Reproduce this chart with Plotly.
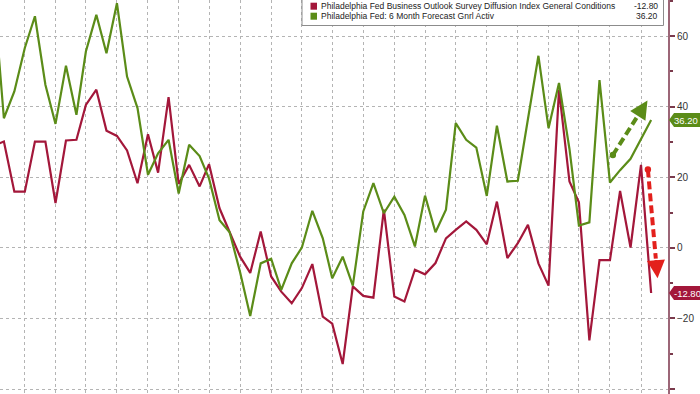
import pandas as pd
import plotly.graph_objects as go

# ---- data ----
months = [d.strftime("%Y-%m-%d") for d in pd.date_range("2020-06-01", periods=65, freq="MS")]

general_conditions = [
    29.0, 30.1, 15.9, 15.9, 30.1, 30.1, 12.7, 30.4, 30.6, 40.5,
    44.8, 33.2, 31.7, 27.6, 18.3, 32.2, 21.3, 42.7, 18.1, 23.5,
    17.4, 23.7, 11.2, 4.6, -2.5, -7.1, 4.6, -8.1, -12.4, -15.7,
    -11.4, -4.6, -19.5, -21.5, -32.9, -10.9, -13.6, -14.1, 10.8, -13.8,
    -15.2, -6.2, -7.5, -4.3, 2.7, 5.1, 7.5, 5.1, 1.0, 13.1,
    -2.9, 1.3, 6.5, -4.4, -10.7, 44.8, 18.8, 12.9, -26.2, -3.5,
    -3.5, 16.1, 0.1, 23.5, -12.8,
]
six_month_forecast = [
    72.0, 36.7, 44.3, 56.6, 65.6, 46.2, 35.1, 51.6, 37.7, 55.6,
    66.0, 55.1, 69.3, 48.5, 39.6, 20.7, 26.8, 30.6, 15.4, 29.2,
    26.0, 19.6, 7.8, 4.4, -6.9, -19.3, -4.4, -3.1, -11.9, -4.4,
    0.1, 10.5, 2.7, -8.6, -2.5, -10.7, 10.3, 18.3, 9.8, 14.5,
    9.3, 0.4, 14.8, 4.4, 10.8, 35.3, 30.6, 28.4, 14.7, 34.6,
    18.8, 19.0, 36.5, 54.4, 33.9, 46.7, 28.0, 6.3, 7.2, 47.5,
    18.5, 22.0, 25.2, 31.0, 36.2,
]
series_names = [
    "Philadelphia Fed Business Outlook Survey Diffusion Index General Conditions",
    "Philadelphia Fed: 6 Month Forecast Gnrl Activ",
]
last_labels = ["-12.80", "36.20"]
y_ticks = [-40, -20, 0, 20, 40, 60]

RED = "#a3173a"
GREEN = "#5b8c18"
AXIS = "#9c6677"
W, H = 700, 394
PLOT_W = 668

fig = go.Figure()
fig.add_trace(go.Scatter(x=months, y=general_conditions, mode="lines",
                         line=dict(color=RED, width=2.2), name=series_names[0],
                         showlegend=False))
fig.add_trace(go.Scatter(x=months, y=six_month_forecast, mode="lines",
                         line=dict(color=GREEN, width=2.2), name=series_names[1],
                         showlegend=False))

t0 = pd.Timestamp(months[0])
x_start = t0 + pd.Timedelta(days=18.5)
x_end = pd.Timestamp(months[-1]) + pd.Timedelta(days=50)

fig.update_layout(
    width=W, height=H,
    margin=dict(l=0, r=W - PLOT_W, t=0, b=0),
    paper_bgcolor="white", plot_bgcolor="white",
    font=dict(family="Liberation Sans, Arial, sans-serif", size=10, color="#333333"),
    xaxis=dict(
        range=[x_start, x_end], showticklabels=False, ticks="",
        showgrid=True, gridcolor="#b4b4b4", griddash="dot", gridwidth=1,
        tick0="2020-09-01", dtick="M3", zeroline=False, showline=False,
    ),
    yaxis=dict(
        side="right", range=[-41.4, 70.2], tickvals=y_ticks,
        showgrid=True, gridcolor="#b4b4b4", griddash="dot", gridwidth=1,
        zeroline=False, showline=True, linecolor=AXIS, linewidth=2,
        ticks="outside", ticklen=5, tickwidth=1.5, tickcolor="#7a3a4c",
        tickfont=dict(size=10, color="#333333"),
        minor=dict(dtick=10, ticks="outside", ticklen=3, tickcolor="#7a3a4c", showgrid=False),
    ),
)

shapes = []
annotations = []

def py(p):
    return 1 - p / H

def px(p):
    return p / PLOT_W

# legend box (custom, values right-aligned as in reference)
shapes.append(dict(type="rect", xref="paper", yref="paper",
                   x0=px(302), x1=px(663.5), y0=py(25.5), y1=py(-6),
                   line=dict(color="#8c8c8c", width=1), fillcolor="white", layer="above"))
rows = [(6.2, RED, series_names[0], last_labels[0]),
        (16.2, GREEN, series_names[1], last_labels[1])]
for cy, col, name, val in rows:
    shapes.append(dict(type="rect", xref="paper", yref="paper",
                       x0=px(310.5), x1=px(317), y0=py(cy + 3.5), y1=py(cy - 3.5),
                       line=dict(width=0), fillcolor=col, layer="above"))
    annotations.append(dict(xref="paper", yref="paper", x=px(318.5), y=py(cy),
                            xanchor="left", yanchor="middle", showarrow=False,
                            text=name, font=dict(size=8.5, color="#222222")))
    annotations.append(dict(xref="paper", yref="paper", x=px(659.5), y=py(cy),
                            xanchor="right", yanchor="middle", showarrow=False,
                            text=val, font=dict(size=8.5, color="#222222")))

# last-value tags on the right axis
for val, col in [(six_month_forecast[-1], GREEN), (general_conditions[-1], RED)]:
    shapes.append(dict(type="path", xref="paper", yref="y",
                       xsizemode="pixel", ysizemode="pixel", xanchor=1, yanchor=val,
                       path="M 1,0 L 6,-7 L 33,-7 L 33,7 L 6,7 Z",
                       line=dict(width=0), fillcolor=col, layer="above"))
    annotations.append(dict(xref="paper", yref="y", x=1, y=val, xshift=3.5,
                            xanchor="left", yanchor="middle", showarrow=False,
                            text=f"{val:.2f}", font=dict(size=9.5, color="white")))

# dashed trend arrows
def month_at(i):
    return t0 + pd.Timedelta(days=30.44 * i)

arrows = [
    (60.27, 26.3, 63.64, 41.7, "#5b8c18"),
    (63.68, 22.2, 64.62, -8.6, "#e3201c"),
]
for xi0, y0, xi1, y1, col in arrows:
    f = 0.82
    xm = xi0 + (xi1 - xi0) * f
    ym = y0 + (y1 - y0) * f
    shapes.append(dict(type="line", xref="x", yref="y",
                       x0=month_at(xi0), y0=y0, x1=month_at(xm), y1=ym,
                       line=dict(color=col, width=4, dash="8px,4px"), layer="above"))
    shapes.append(dict(type="circle", xref="x", yref="y",
                       xsizemode="pixel", ysizemode="pixel",
                       xanchor=month_at(xi0), yanchor=y0,
                       x0=-3.2, x1=3.2, y0=-3.2, y1=3.2,
                       line=dict(width=0), fillcolor=col, layer="above"))
    annotations.append(dict(xref="x", yref="y", axref="x", ayref="y",
                            x=month_at(xi1), y=y1, ax=month_at(xm), ay=ym,
                            showarrow=True, arrowhead=2, arrowsize=1.2,
                            arrowwidth=3, arrowcolor=col, text=""))

fig.update_layout(shapes=shapes, annotations=annotations)
fig.write_html("out.html",
               config={"displayModeBar": False},
               post_script="document.body.style.margin='0px';document.body.style.overflow='hidden';")
